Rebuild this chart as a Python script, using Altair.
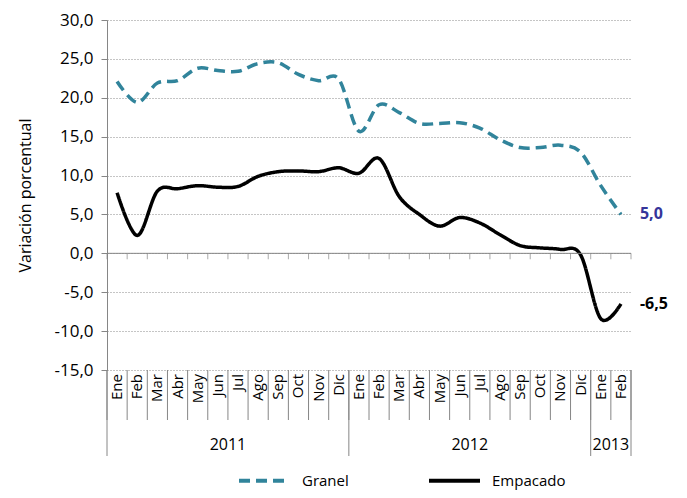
import altair as alt
import pandas as pd

# ---------------- data ----------------
months = ["Ene", "Feb", "Mar", "Abr", "May", "Jun", "Jul", "Ago", "Sep", "Oct", "Nov", "Dic",
          "Ene", "Feb", "Mar", "Abr", "May", "Jun", "Jul", "Ago", "Sep", "Oct", "Nov", "Dic",
          "Ene", "Feb"]
granel = [22.1, 19.4, 21.9, 22.2, 23.8, 23.5, 23.4, 24.4, 24.5, 23.0, 22.2, 22.4,
          15.7, 19.1, 18.1, 16.7, 16.7, 16.8, 16.1, 14.6, 13.6, 13.6, 13.9, 13.0,
          8.7, 5.0]
empacado = [7.8, 2.3, 8.0, 8.3, 8.7, 8.5, 8.6, 9.9, 10.5, 10.6, 10.5, 11.0,
            10.3, 12.2, 7.3, 5.0, 3.5, 4.6, 3.9, 2.4, 1.0, 0.7, 0.5, -0.2,
            -8.4, -6.5]
series = ["Granel", "Empacado"]
series_colors = ["#31849B", "#000000"]
label_colors = ["#35359A", "#000000"]
year_labels = ["2011", "2012", "2013"]
year_start = [0, 12, 24]
year_end = [12, 24, 26]
y_ticks = [-15, -10, -5, 0, 5, 10, 15, 20, 25, 30]

FONT = "Open Sans"
W, H = 524, 350
AXIS_GRAY = "#868686"

n = len(months)
rows = []
for i in range(n):
    rows.append({"pos": i + 0.5, "serie": "Granel", "valor": granel[i], "orden": i})
    rows.append({"pos": i + 0.5, "serie": "Empacado", "valor": empacado[i], "orden": i})
df = pd.DataFrame(rows)

df_months = pd.DataFrame({"pos": [i + 0.5 for i in range(n)], "mes": months})
df_bounds = pd.DataFrame({"b": list(range(n + 1)), "y": [0] * (n + 1)})
df_ybounds = pd.DataFrame({"b": year_start + [year_end[-1]]})
df_years = pd.DataFrame({"mid": [(a + b) / 2 for a, b in zip(year_start, year_end)],
                         "anio": year_labels})
df_axis = pd.DataFrame({"x0": [0], "x1": [n], "y": [0]})
last_vals = [granel[-1], empacado[-1]]
df_end = pd.DataFrame({
    "pos": [n - 0.5, n - 0.5],
    "valor": last_vals,
    "txt": [f"{v:.1f}".replace(".", ",") for v in last_vals],
    "tc": label_colors,
})

xscale = alt.Scale(domain=[0, n], nice=False, zero=False)
yscale = alt.Scale(domain=[-15, 30], nice=False, zero=False)

y_axis = alt.Axis(
    values=y_ticks, grid=True, gridDash=[1, 2], gridColor="#8a8a8a", gridWidth=1,
    domainColor=AXIS_GRAY, tickColor=AXIS_GRAY, tickSize=6,
    labelOverlap=False, labelBound=False, labelFlush=False,
    labelExpr="replace(replace(format(datum.value, '.1f'), '.', ','), '\u2212', '-')",
    labelFont=FONT, labelFontSize=17, labelColor="#000000", labelPadding=8,
    title="Variación porcentual", titleFont=FONT, titleFontSize=16,
    titleFontWeight="normal", titleColor="#000000", titlePadding=20,
)


def Y(field):
    return alt.Y(field, scale=yscale, axis=y_axis)


def X(field):
    return alt.X(field, scale=xscale, axis=None)


leg = alt.Legend(
    orient="none", legendX=130, legendY=433, direction="horizontal", title=None,
    symbolType="stroke", symbolSize=2600, symbolStrokeWidth=4,
    labelFont=FONT, labelFontSize=15, labelColor="#000000", labelOffset=10,
    columnPadding=72,
)

lines = alt.Chart(df).mark_line(interpolate="cardinal", strokeWidth=3.5).encode(
    x=X("pos:Q"),
    y=Y("valor:Q"),
    color=alt.Color("serie:N", scale=alt.Scale(domain=series, range=series_colors), legend=leg),
    strokeDash=alt.StrokeDash("serie:N", scale=alt.Scale(domain=series, range=[[11, 6], [1, 0]]), legend=leg),
    order="orden:Q",
)

axis_line = alt.Chart(df_axis).mark_rule(color=AXIS_GRAY, strokeWidth=1).encode(
    x=X("x0:Q"), x2="x1:Q",
    y=Y("y:Q"),
)

axis_ticks = alt.Chart(df_bounds).mark_tick(orient="vertical", size=6, yOffset=3,
                                             color=AXIS_GRAY, thickness=1).encode(
    x=X("b:Q"),
    y=Y("y:Q"),
)

month_div = alt.Chart(df_bounds).mark_rule(color=AXIS_GRAY, strokeWidth=1).encode(
    x=X("b:Q"),
    y=alt.value(H), y2=alt.value(H + 50),
)

year_div = alt.Chart(df_ybounds).mark_rule(color=AXIS_GRAY, strokeWidth=1).encode(
    x=X("b:Q"),
    y=alt.value(H), y2=alt.value(H + 86),
)

month_txt = alt.Chart(df_months).mark_text(
    angle=270, align="right", baseline="middle", font=FONT, fontSize=15, color="#000000"
).encode(
    x=X("pos:Q"),
    y=alt.value(H + 4),
    text="mes:N",
)

year_txt = alt.Chart(df_years).mark_text(
    baseline="middle", align="center", font=FONT, fontSize=16, color="#000000"
).encode(
    x=X("mid:Q"),
    y=alt.value(H + 75),
    text="anio:N",
)

end_txt = alt.Chart(df_end).mark_text(
    align="left", baseline="middle", dx=19, font=FONT, fontSize=16, fontWeight="bold"
).encode(
    x=X("pos:Q"),
    y=Y("valor:Q"),
    text="txt:N",
    color=alt.Color("tc:N", scale=None),
)

chart = alt.layer(
    lines, axis_line, axis_ticks, month_div, year_div, month_txt, year_txt, end_txt
).properties(
    width=W, height=H,
    autosize=alt.AutoSizeParams(type="none"),
    padding={"left": 99, "top": 12, "right": 48, "bottom": 120},
    background="#ffffff",
).configure_view(stroke=None)

chart.save("out.html", embed_options={"renderer": "svg", "actions": False})
